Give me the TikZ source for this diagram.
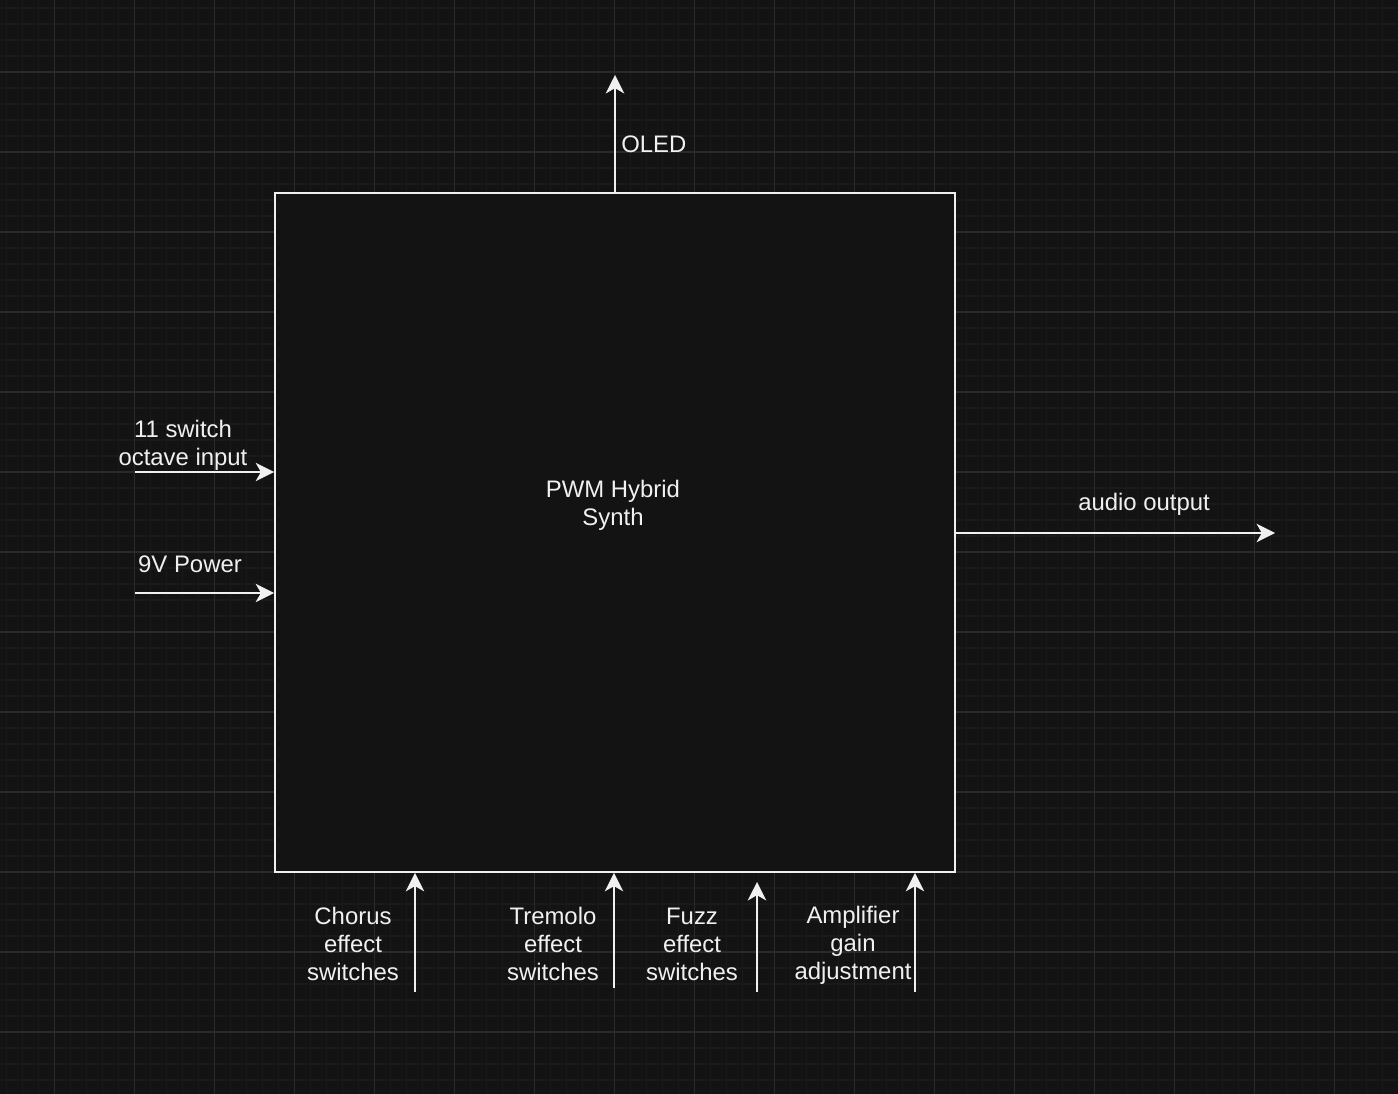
\documentclass[tikz,border=0pt]{standalone}
\usepackage{fontspec}
\setmainfont{Liberation Sans}
\usetikzlibrary{arrows.meta}
\definecolor{bgcol}{HTML}{131313}
\definecolor{minorcol}{HTML}{1A1A1A}
\definecolor{majorcol}{HTML}{2A2A2A}
\definecolor{inkcol}{HTML}{F0F0F0}
\tikzset{
  sig/.style={draw=inkcol,line width=1.1pt,-{Stealth[length=10.5pt,width=10.5pt,inset=3pt]}},
  lbl/.style={text=inkcol,align=center,inner sep=0pt,font=\fontsize{13.6}{15.9}\selectfont},
  block/.style={draw=inkcol,fill=bgcol,line width=1.1pt,minimum width=13.6cm,minimum height=13.58cm,inner sep=0pt}
}
\begin{document}
\begin{tikzpicture}[x=0.02cm,y=-0.02cm]
%background and grid
\fill[bgcol] (0,0) rectangle (1398,1094);
\useasboundingbox (0,0) rectangle (1398,1094);
\foreach \x in {6.5,22.5,...,1398} \draw[minorcol,line width=0.6pt] (\x,0) -- (\x,1094);
\foreach \y in {8,24,...,1094} \draw[minorcol,line width=0.6pt] (0,\y) -- (1398,\y);
\foreach \x in {54.5,134.5,...,1398} \draw[majorcol,line width=0.6pt] (\x,0) -- (\x,1094);
\foreach \y in {72,152,...,1094} \draw[majorcol,line width=0.6pt] (0,\y) -- (1398,\y);

%synth block
\node[block] (synth) at (615,532.5) {};
\node[lbl] (synthtxt) at (613,505) {PWM Hybrid\\Synth};

%OLED
\coordinate (oledend) at (615,75);
\draw[sig] (synth.north) -- (oledend);
\node[lbl,anchor=west] (oled) at (621,144) {OLED};

%octave input
\coordinate (octstart) at (135,472);
\draw[sig] (octstart) -- (octstart -| synth.west);
\node[lbl] (oct) at (183,445) {11 switch\\octave input};

%power
\coordinate (pwrstart) at (135,593);
\draw[sig] (pwrstart) -- (pwrstart -| synth.west);
\node[lbl] (pwr) at (190,564) {9V Power};

%audio output
\coordinate (audend) at (1275,533);
\draw[sig] (audend -| synth.east) -- (audend);
\node[lbl] (aud) at (1144,504) {audio output};

%bottom inputs
\coordinate (chostart) at (415,992);
\draw[sig] (chostart) -- (chostart |- synth.south);
\node[lbl] (cho) at (353,944) {Chorus\\effect\\switches};

\coordinate (trestart) at (614,988);
\draw[sig] (trestart) -- (trestart |- synth.south);
\node[lbl] (tre) at (553,944) {Tremolo\\effect\\switches};

\coordinate (fuzstart) at (757,992);
\coordinate (fuzend) at (757,882);
\draw[sig] (fuzstart) -- (fuzend);
\node[lbl] (fuz) at (692,944) {Fuzz\\effect\\switches};

\coordinate (ampstart) at (915,992);
\draw[sig] (ampstart) -- (ampstart |- synth.south);
\node[lbl] (amp) at (853,945) {Amplifier\\gain\\adjustment};
\end{tikzpicture}
\end{document}
